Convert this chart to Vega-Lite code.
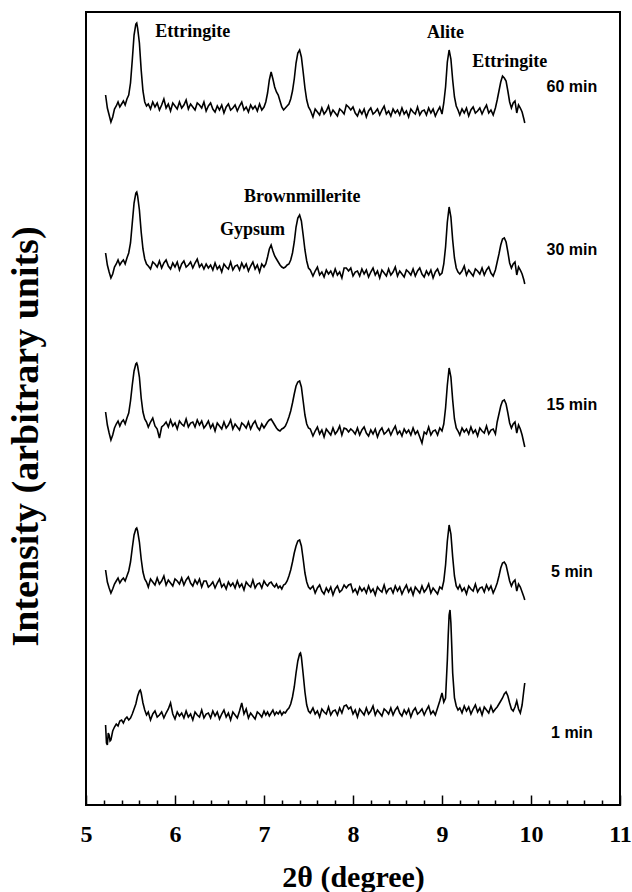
{
"$schema":"https://vega.github.io/schema/vega-lite/v6.json",
"width":534,"height":793,
"autosize":{"type":"none"},
"padding":{"left":86,"top":12,"right":12,"bottom":87},
"background":"white",
"config":{"view":{"stroke":"black","strokeWidth":2}},
"datasets":{
"t60":[
{"deg":5.22,"v":710},{"deg":5.24,"v":697},{"deg":5.26,"v":690},{"deg":5.28,"v":683},{"deg":5.30,"v":688},{"deg":5.32,"v":696},{"deg":5.34,"v":699},{"deg":5.36,"v":703},{"deg":5.38,"v":698},{"deg":5.40,"v":701},{"deg":5.42,"v":704},{"deg":5.44,"v":700},{"deg":5.46,"v":706},{"deg":5.48,"v":710},{"deg":5.50,"v":722},{"deg":5.52,"v":745},{"deg":5.54,"v":770},{"deg":5.56,"v":781},{"deg":5.57,"v":782},{"deg":5.58,"v":777},{"deg":5.60,"v":762},{"deg":5.62,"v":735},{"deg":5.64,"v":714},{"deg":5.66,"v":703},{"deg":5.68,"v":699},
{"deg":5.700,"v":701},{"deg":5.725,"v":696},{"deg":5.750,"v":703},{"deg":5.775,"v":698},{"deg":5.800,"v":702},{"deg":5.825,"v":695},{"deg":5.850,"v":700},{"deg":5.875,"v":706},{"deg":5.900,"v":697},{"deg":5.925,"v":701},{"deg":5.950,"v":694},{"deg":5.975,"v":702},{"deg":6.000,"v":699},{"deg":6.025,"v":696},{"deg":6.050,"v":703},{"deg":6.075,"v":697},{"deg":6.100,"v":700},{"deg":6.125,"v":705},{"deg":6.150,"v":696},{"deg":6.175,"v":701},{"deg":6.200,"v":698},{"deg":6.225,"v":695},{"deg":6.250,"v":702},{"deg":6.275,"v":700},{"deg":6.300,"v":697},{"deg":6.325,"v":703},{"deg":6.350,"v":694},{"deg":6.375,"v":699},{"deg":6.400,"v":702},{"deg":6.425,"v":696},{"deg":6.450,"v":693},{"deg":6.475,"v":699},{"deg":6.500,"v":695},{"deg":6.525,"v":700},{"deg":6.550,"v":692},{"deg":6.575,"v":698},{"deg":6.600,"v":701},{"deg":6.625,"v":695},{"deg":6.650,"v":697},{"deg":6.675,"v":700},{"deg":6.700,"v":694},{"deg":6.725,"v":699},{"deg":6.750,"v":703},{"deg":6.775,"v":695},{"deg":6.800,"v":698},{"deg":6.825,"v":693},{"deg":6.850,"v":700},{"deg":6.875,"v":696},{"deg":6.900,"v":699},{"deg":6.925,"v":694},{"deg":6.950,"v":701},{"deg":6.975,"v":695},{"deg":7.000,"v":698},
{"deg":7.02,"v":703},{"deg":7.04,"v":712},{"deg":7.06,"v":725},{"deg":7.08,"v":733},{"deg":7.10,"v":726},{"deg":7.12,"v":718},{"deg":7.14,"v":713},{"deg":7.16,"v":710},{"deg":7.18,"v":704},{"deg":7.20,"v":698},{"deg":7.22,"v":695},{"deg":7.24,"v":697},{"deg":7.26,"v":699},{"deg":7.28,"v":701},{"deg":7.30,"v":706},{"deg":7.32,"v":714},{"deg":7.34,"v":726},{"deg":7.36,"v":742},{"deg":7.38,"v":752},{"deg":7.40,"v":755},{"deg":7.42,"v":748},{"deg":7.44,"v":733},{"deg":7.46,"v":717},{"deg":7.48,"v":705},{"deg":7.50,"v":698},{"deg":7.52,"v":695},
{"deg":7.550,"v":688},{"deg":7.575,"v":696},{"deg":7.600,"v":693},{"deg":7.625,"v":690},{"deg":7.650,"v":697},{"deg":7.675,"v":691},{"deg":7.700,"v":694},{"deg":7.725,"v":699},{"deg":7.750,"v":690},{"deg":7.775,"v":695},{"deg":7.800,"v":692},{"deg":7.825,"v":689},{"deg":7.850,"v":696},{"deg":7.875,"v":694},{"deg":7.900,"v":691},{"deg":7.925,"v":700},{"deg":7.950,"v":698},{"deg":7.975,"v":695},{"deg":8.000,"v":698},{"deg":8.025,"v":692},{"deg":8.050,"v":689},{"deg":8.075,"v":695},{"deg":8.100,"v":691},{"deg":8.125,"v":696},{"deg":8.150,"v":688},{"deg":8.175,"v":694},{"deg":8.200,"v":697},{"deg":8.225,"v":691},{"deg":8.250,"v":693},{"deg":8.275,"v":696},{"deg":8.300,"v":690},{"deg":8.325,"v":695},{"deg":8.350,"v":699},{"deg":8.375,"v":691},{"deg":8.400,"v":694},{"deg":8.425,"v":689},{"deg":8.450,"v":696},{"deg":8.475,"v":692},{"deg":8.500,"v":695},{"deg":8.525,"v":690},{"deg":8.550,"v":697},{"deg":8.575,"v":691},{"deg":8.600,"v":694},{"deg":8.625,"v":688},{"deg":8.650,"v":696},{"deg":8.675,"v":693},{"deg":8.700,"v":691},{"deg":8.725,"v":698},{"deg":8.750,"v":690},{"deg":8.775,"v":694},{"deg":8.800,"v":695},{"deg":8.825,"v":690},{"deg":8.850,"v":697},{"deg":8.875,"v":692},{"deg":8.900,"v":696},{"deg":8.925,"v":689},{"deg":8.950,"v":694},{"deg":8.975,"v":698},{"deg":9.000,"v":691},
{"deg":9.02,"v":702},{"deg":9.04,"v":718},{"deg":9.06,"v":743},{"deg":9.08,"v":755},{"deg":9.10,"v":746},{"deg":9.12,"v":725},{"deg":9.14,"v":708},{"deg":9.16,"v":699},{"deg":9.18,"v":695},
{"deg":9.200,"v":690},{"deg":9.225,"v":696},{"deg":9.250,"v":692},{"deg":9.275,"v":697},{"deg":9.300,"v":689},{"deg":9.325,"v":695},{"deg":9.350,"v":698},{"deg":9.375,"v":692},{"deg":9.400,"v":694},{"deg":9.425,"v":697},{"deg":9.450,"v":691},{"deg":9.475,"v":696},{"deg":9.500,"v":700},{"deg":9.525,"v":692},{"deg":9.550,"v":695},{"deg":9.575,"v":690},{"deg":9.600,"v":697},
{"deg":9.62,"v":705},{"deg":9.64,"v":714},{"deg":9.66,"v":723},{"deg":9.68,"v":729},{"deg":9.70,"v":727},{"deg":9.72,"v":724},{"deg":9.74,"v":714},{"deg":9.76,"v":703},{"deg":9.78,"v":697},{"deg":9.80,"v":702},{"deg":9.82,"v":704},{"deg":9.84,"v":692},{"deg":9.86,"v":700},{"deg":9.88,"v":697},{"deg":9.90,"v":693},{"deg":9.92,"v":686},{"deg":9.93,"v":682}],
"t30":[
{"deg":5.22,"v":552},{"deg":5.24,"v":540},{"deg":5.26,"v":533},{"deg":5.28,"v":527},{"deg":5.30,"v":531},{"deg":5.32,"v":538},{"deg":5.34,"v":541},{"deg":5.36,"v":545},{"deg":5.38,"v":540},{"deg":5.40,"v":543},{"deg":5.42,"v":545},{"deg":5.44,"v":541},{"deg":5.46,"v":547},{"deg":5.48,"v":552},{"deg":5.50,"v":562},{"deg":5.52,"v":582},{"deg":5.54,"v":602},{"deg":5.56,"v":612},{"deg":5.57,"v":613},{"deg":5.58,"v":609},{"deg":5.60,"v":595},{"deg":5.62,"v":573},{"deg":5.64,"v":556},{"deg":5.66,"v":546},{"deg":5.68,"v":541},
{"deg":5.700,"v":539},{"deg":5.725,"v":536},{"deg":5.750,"v":543},{"deg":5.775,"v":541},{"deg":5.800,"v":538},{"deg":5.825,"v":544},{"deg":5.850,"v":537},{"deg":5.875,"v":542},{"deg":5.900,"v":545},{"deg":5.925,"v":539},{"deg":5.950,"v":536},{"deg":5.975,"v":542},{"deg":6.000,"v":538},{"deg":6.025,"v":543},{"deg":6.050,"v":535},{"deg":6.075,"v":541},{"deg":6.100,"v":544},{"deg":6.125,"v":538},{"deg":6.150,"v":540},{"deg":6.175,"v":543},{"deg":6.200,"v":537},{"deg":6.225,"v":542},{"deg":6.250,"v":546},{"deg":6.275,"v":538},{"deg":6.300,"v":541},{"deg":6.325,"v":536},{"deg":6.350,"v":541},{"deg":6.375,"v":537},{"deg":6.400,"v":540},{"deg":6.425,"v":535},{"deg":6.450,"v":542},{"deg":6.475,"v":536},{"deg":6.500,"v":539},{"deg":6.525,"v":533},{"deg":6.550,"v":541},{"deg":6.575,"v":538},{"deg":6.600,"v":536},{"deg":6.625,"v":543},{"deg":6.650,"v":535},{"deg":6.675,"v":539},{"deg":6.700,"v":540},{"deg":6.725,"v":535},{"deg":6.750,"v":542},{"deg":6.775,"v":537},{"deg":6.800,"v":541},{"deg":6.825,"v":534},{"deg":6.850,"v":539},{"deg":6.875,"v":543},{"deg":6.900,"v":536},{"deg":6.925,"v":540},{"deg":6.950,"v":533},{"deg":6.975,"v":541},{"deg":7.000,"v":538},
{"deg":7.02,"v":541},{"deg":7.04,"v":548},{"deg":7.06,"v":556},{"deg":7.08,"v":560},{"deg":7.10,"v":554},{"deg":7.12,"v":549},{"deg":7.14,"v":546},{"deg":7.16,"v":543},{"deg":7.18,"v":540},{"deg":7.20,"v":538},{"deg":7.22,"v":537},{"deg":7.24,"v":538},{"deg":7.26,"v":540},{"deg":7.28,"v":541},{"deg":7.30,"v":545},{"deg":7.32,"v":552},{"deg":7.34,"v":563},{"deg":7.36,"v":578},{"deg":7.38,"v":587},{"deg":7.40,"v":590},{"deg":7.42,"v":584},{"deg":7.44,"v":570},{"deg":7.46,"v":555},{"deg":7.48,"v":544},{"deg":7.50,"v":537},{"deg":7.52,"v":535},
{"deg":7.550,"v":529},{"deg":7.575,"v":534},{"deg":7.600,"v":538},{"deg":7.625,"v":530},{"deg":7.650,"v":533},{"deg":7.675,"v":528},{"deg":7.700,"v":535},{"deg":7.725,"v":531},{"deg":7.750,"v":534},{"deg":7.775,"v":529},{"deg":7.800,"v":536},{"deg":7.825,"v":530},{"deg":7.850,"v":533},{"deg":7.875,"v":527},{"deg":7.900,"v":537},{"deg":7.925,"v":537},{"deg":7.950,"v":534},{"deg":7.975,"v":537},{"deg":8.000,"v":529},{"deg":8.025,"v":533},{"deg":8.050,"v":534},{"deg":8.075,"v":529},{"deg":8.100,"v":536},{"deg":8.125,"v":531},{"deg":8.150,"v":535},{"deg":8.175,"v":528},{"deg":8.200,"v":533},{"deg":8.225,"v":537},{"deg":8.250,"v":530},{"deg":8.275,"v":534},{"deg":8.300,"v":527},{"deg":8.325,"v":535},{"deg":8.350,"v":532},{"deg":8.375,"v":529},{"deg":8.400,"v":536},{"deg":8.425,"v":530},{"deg":8.450,"v":533},{"deg":8.475,"v":538},{"deg":8.500,"v":529},{"deg":8.525,"v":534},{"deg":8.550,"v":531},{"deg":8.575,"v":528},{"deg":8.600,"v":535},{"deg":8.625,"v":533},{"deg":8.650,"v":530},{"deg":8.675,"v":536},{"deg":8.700,"v":529},{"deg":8.725,"v":534},{"deg":8.750,"v":537},{"deg":8.775,"v":531},{"deg":8.800,"v":528},{"deg":8.825,"v":534},{"deg":8.850,"v":530},{"deg":8.875,"v":535},{"deg":8.900,"v":527},{"deg":8.925,"v":533},{"deg":8.950,"v":536},{"deg":8.975,"v":530},{"deg":9.000,"v":532},
{"deg":9.02,"v":541},{"deg":9.04,"v":558},{"deg":9.06,"v":583},{"deg":9.08,"v":598},{"deg":9.10,"v":588},{"deg":9.12,"v":565},{"deg":9.14,"v":547},{"deg":9.16,"v":537},{"deg":9.18,"v":533},
{"deg":9.200,"v":531},{"deg":9.225,"v":534},{"deg":9.250,"v":539},{"deg":9.275,"v":530},{"deg":9.300,"v":535},{"deg":9.325,"v":532},{"deg":9.350,"v":529},{"deg":9.375,"v":536},{"deg":9.400,"v":534},{"deg":9.425,"v":531},{"deg":9.450,"v":537},{"deg":9.475,"v":530},{"deg":9.500,"v":535},{"deg":9.525,"v":538},{"deg":9.550,"v":532},{"deg":9.575,"v":529},{"deg":9.600,"v":535},
{"deg":9.62,"v":543},{"deg":9.64,"v":551},{"deg":9.66,"v":560},{"deg":9.68,"v":566},{"deg":9.70,"v":567},{"deg":9.72,"v":563},{"deg":9.74,"v":553},{"deg":9.76,"v":542},{"deg":9.78,"v":537},{"deg":9.80,"v":541},{"deg":9.82,"v":543},{"deg":9.84,"v":530},{"deg":9.86,"v":538},{"deg":9.88,"v":535},{"deg":9.90,"v":531},{"deg":9.92,"v":525},{"deg":9.93,"v":521}],
"t15":[
{"deg":5.22,"v":393},{"deg":5.24,"v":380},{"deg":5.26,"v":372},{"deg":5.28,"v":365},{"deg":5.30,"v":370},{"deg":5.32,"v":377},{"deg":5.34,"v":381},{"deg":5.36,"v":384},{"deg":5.38,"v":379},{"deg":5.40,"v":383},{"deg":5.42,"v":385},{"deg":5.44,"v":381},{"deg":5.46,"v":387},{"deg":5.48,"v":392},{"deg":5.50,"v":404},{"deg":5.52,"v":420},{"deg":5.54,"v":434},{"deg":5.56,"v":441},{"deg":5.57,"v":442},{"deg":5.58,"v":439},{"deg":5.60,"v":428},{"deg":5.62,"v":407},{"deg":5.64,"v":393},{"deg":5.66,"v":386},{"deg":5.68,"v":383},
{"deg":5.700,"v":378},{"deg":5.725,"v":383},{"deg":5.750,"v":387},{"deg":5.775,"v":379},{"deg":5.800,"v":376},{"deg":5.825,"v":367},{"deg":5.850,"v":378},{"deg":5.875,"v":380},{"deg":5.900,"v":383},{"deg":5.925,"v":378},{"deg":5.950,"v":385},{"deg":5.975,"v":379},{"deg":6.000,"v":382},{"deg":6.025,"v":376},{"deg":6.050,"v":384},{"deg":6.075,"v":381},{"deg":6.100,"v":379},{"deg":6.125,"v":386},{"deg":6.150,"v":378},{"deg":6.175,"v":382},{"deg":6.200,"v":383},{"deg":6.225,"v":378},{"deg":6.250,"v":385},{"deg":6.275,"v":380},{"deg":6.300,"v":384},{"deg":6.325,"v":377},{"deg":6.350,"v":380},{"deg":6.375,"v":384},{"deg":6.400,"v":377},{"deg":6.425,"v":381},{"deg":6.450,"v":374},{"deg":6.475,"v":382},{"deg":6.500,"v":379},{"deg":6.525,"v":376},{"deg":6.550,"v":383},{"deg":6.575,"v":377},{"deg":6.600,"v":380},{"deg":6.625,"v":385},{"deg":6.650,"v":376},{"deg":6.675,"v":381},{"deg":6.700,"v":378},{"deg":6.725,"v":375},{"deg":6.750,"v":382},{"deg":6.775,"v":380},{"deg":6.800,"v":377},{"deg":6.825,"v":383},{"deg":6.850,"v":376},{"deg":6.875,"v":381},{"deg":6.900,"v":384},{"deg":6.925,"v":378},{"deg":6.950,"v":375},{"deg":6.975,"v":381},{"deg":7.000,"v":377},
{"deg":7.02,"v":380},{"deg":7.04,"v":383},{"deg":7.06,"v":385},{"deg":7.08,"v":386},{"deg":7.10,"v":383},{"deg":7.12,"v":380},{"deg":7.14,"v":377},{"deg":7.16,"v":375},{"deg":7.18,"v":374},{"deg":7.20,"v":376},{"deg":7.22,"v":377},{"deg":7.24,"v":379},{"deg":7.26,"v":383},{"deg":7.28,"v":388},{"deg":7.30,"v":394},{"deg":7.32,"v":402},{"deg":7.34,"v":411},{"deg":7.36,"v":419},{"deg":7.38,"v":423},{"deg":7.40,"v":424},{"deg":7.42,"v":418},{"deg":7.44,"v":404},{"deg":7.46,"v":390},{"deg":7.48,"v":381},{"deg":7.50,"v":377},{"deg":7.52,"v":376},
{"deg":7.550,"v":369},{"deg":7.575,"v":374},{"deg":7.600,"v":378},{"deg":7.625,"v":371},{"deg":7.650,"v":375},{"deg":7.675,"v":368},{"deg":7.700,"v":376},{"deg":7.725,"v":373},{"deg":7.750,"v":370},{"deg":7.775,"v":377},{"deg":7.800,"v":371},{"deg":7.825,"v":374},{"deg":7.850,"v":379},{"deg":7.875,"v":370},{"deg":7.900,"v":377},{"deg":7.925,"v":376},{"deg":7.950,"v":373},{"deg":7.975,"v":376},{"deg":8.000,"v":374},{"deg":8.025,"v":371},{"deg":8.050,"v":377},{"deg":8.075,"v":370},{"deg":8.100,"v":375},{"deg":8.125,"v":378},{"deg":8.150,"v":372},{"deg":8.175,"v":369},{"deg":8.200,"v":375},{"deg":8.225,"v":371},{"deg":8.250,"v":376},{"deg":8.275,"v":368},{"deg":8.300,"v":374},{"deg":8.325,"v":377},{"deg":8.350,"v":371},{"deg":8.375,"v":373},{"deg":8.400,"v":376},{"deg":8.425,"v":370},{"deg":8.450,"v":375},{"deg":8.475,"v":379},{"deg":8.500,"v":371},{"deg":8.525,"v":374},{"deg":8.550,"v":369},{"deg":8.575,"v":376},{"deg":8.600,"v":372},{"deg":8.625,"v":375},{"deg":8.650,"v":370},{"deg":8.675,"v":377},{"deg":8.700,"v":371},{"deg":8.725,"v":374},{"deg":8.750,"v":368},{"deg":8.775,"v":362},{"deg":8.800,"v":373},{"deg":8.825,"v":371},{"deg":8.850,"v":378},{"deg":8.875,"v":370},{"deg":8.900,"v":374},{"deg":8.925,"v":375},{"deg":8.950,"v":370},{"deg":8.975,"v":377},{"deg":9.000,"v":374},
{"deg":9.02,"v":381},{"deg":9.04,"v":397},{"deg":9.06,"v":420},{"deg":9.08,"v":437},{"deg":9.10,"v":428},{"deg":9.12,"v":405},{"deg":9.14,"v":386},{"deg":9.16,"v":377},{"deg":9.18,"v":374},
{"deg":9.200,"v":370},{"deg":9.225,"v":377},{"deg":9.250,"v":373},{"deg":9.275,"v":376},{"deg":9.300,"v":371},{"deg":9.325,"v":378},{"deg":9.350,"v":372},{"deg":9.375,"v":375},{"deg":9.400,"v":369},{"deg":9.425,"v":377},{"deg":9.450,"v":374},{"deg":9.475,"v":372},{"deg":9.500,"v":379},{"deg":9.525,"v":371},{"deg":9.550,"v":375},{"deg":9.575,"v":376},{"deg":9.600,"v":371},
{"deg":9.62,"v":383},{"deg":9.64,"v":391},{"deg":9.66,"v":399},{"deg":9.68,"v":404},{"deg":9.70,"v":405},{"deg":9.72,"v":401},{"deg":9.74,"v":392},{"deg":9.76,"v":382},{"deg":9.78,"v":377},{"deg":9.80,"v":381},{"deg":9.82,"v":383},{"deg":9.84,"v":372},{"deg":9.86,"v":380},{"deg":9.88,"v":376},{"deg":9.90,"v":370},{"deg":9.92,"v":362},{"deg":9.93,"v":358}],
"t5":[
{"deg":5.22,"v":235},{"deg":5.24,"v":223},{"deg":5.26,"v":217},{"deg":5.28,"v":212},{"deg":5.30,"v":216},{"deg":5.32,"v":221},{"deg":5.34,"v":224},{"deg":5.36,"v":227},{"deg":5.38,"v":222},{"deg":5.40,"v":225},{"deg":5.42,"v":227},{"deg":5.44,"v":224},{"deg":5.46,"v":229},{"deg":5.48,"v":234},{"deg":5.50,"v":243},{"deg":5.52,"v":257},{"deg":5.54,"v":270},{"deg":5.56,"v":276},{"deg":5.57,"v":277},{"deg":5.58,"v":274},{"deg":5.60,"v":263},{"deg":5.62,"v":246},{"deg":5.64,"v":233},{"deg":5.66,"v":226},{"deg":5.68,"v":223},
{"deg":5.700,"v":218},{"deg":5.725,"v":226},{"deg":5.750,"v":223},{"deg":5.775,"v":220},{"deg":5.800,"v":227},{"deg":5.825,"v":221},{"deg":5.850,"v":224},{"deg":5.875,"v":229},{"deg":5.900,"v":220},{"deg":5.925,"v":225},{"deg":5.950,"v":222},{"deg":5.975,"v":219},{"deg":6.000,"v":226},{"deg":6.025,"v":224},{"deg":6.050,"v":221},{"deg":6.075,"v":227},{"deg":6.100,"v":220},{"deg":6.125,"v":225},{"deg":6.150,"v":228},{"deg":6.175,"v":222},{"deg":6.200,"v":219},{"deg":6.225,"v":225},{"deg":6.250,"v":221},{"deg":6.275,"v":226},{"deg":6.300,"v":218},{"deg":6.325,"v":224},{"deg":6.350,"v":224},{"deg":6.375,"v":218},{"deg":6.400,"v":220},{"deg":6.425,"v":223},{"deg":6.450,"v":217},{"deg":6.475,"v":222},{"deg":6.500,"v":226},{"deg":6.525,"v":218},{"deg":6.550,"v":221},{"deg":6.575,"v":216},{"deg":6.600,"v":223},{"deg":6.625,"v":219},{"deg":6.650,"v":222},{"deg":6.675,"v":217},{"deg":6.700,"v":224},{"deg":6.725,"v":218},{"deg":6.750,"v":221},{"deg":6.775,"v":215},{"deg":6.800,"v":223},{"deg":6.825,"v":220},{"deg":6.850,"v":218},{"deg":6.875,"v":225},{"deg":6.900,"v":217},{"deg":6.925,"v":221},{"deg":6.950,"v":222},{"deg":6.975,"v":217},{"deg":7.000,"v":224},
{"deg":7.02,"v":221},{"deg":7.04,"v":219},{"deg":7.06,"v":222},{"deg":7.08,"v":223},{"deg":7.10,"v":220},{"deg":7.12,"v":218},{"deg":7.14,"v":221},{"deg":7.16,"v":217},{"deg":7.18,"v":219},{"deg":7.20,"v":216},{"deg":7.22,"v":220},{"deg":7.24,"v":221},{"deg":7.26,"v":224},{"deg":7.28,"v":229},{"deg":7.30,"v":235},{"deg":7.32,"v":243},{"deg":7.34,"v":252},{"deg":7.36,"v":259},{"deg":7.38,"v":264},{"deg":7.40,"v":265},{"deg":7.42,"v":259},{"deg":7.44,"v":246},{"deg":7.46,"v":232},{"deg":7.48,"v":223},{"deg":7.50,"v":218},{"deg":7.52,"v":216},
{"deg":7.550,"v":219},{"deg":7.575,"v":212},{"deg":7.600,"v":217},{"deg":7.625,"v":220},{"deg":7.650,"v":214},{"deg":7.675,"v":211},{"deg":7.700,"v":217},{"deg":7.725,"v":213},{"deg":7.750,"v":218},{"deg":7.775,"v":210},{"deg":7.800,"v":216},{"deg":7.825,"v":219},{"deg":7.850,"v":213},{"deg":7.875,"v":215},{"deg":7.900,"v":220},{"deg":7.925,"v":217},{"deg":7.950,"v":220},{"deg":7.975,"v":221},{"deg":8.000,"v":213},{"deg":8.025,"v":216},{"deg":8.050,"v":211},{"deg":8.075,"v":218},{"deg":8.100,"v":214},{"deg":8.125,"v":217},{"deg":8.150,"v":212},{"deg":8.175,"v":219},{"deg":8.200,"v":213},{"deg":8.225,"v":216},{"deg":8.250,"v":210},{"deg":8.275,"v":218},{"deg":8.300,"v":215},{"deg":8.325,"v":213},{"deg":8.350,"v":220},{"deg":8.375,"v":212},{"deg":8.400,"v":216},{"deg":8.425,"v":217},{"deg":8.450,"v":212},{"deg":8.475,"v":219},{"deg":8.500,"v":214},{"deg":8.525,"v":218},{"deg":8.550,"v":211},{"deg":8.575,"v":216},{"deg":8.600,"v":220},{"deg":8.625,"v":213},{"deg":8.650,"v":217},{"deg":8.675,"v":210},{"deg":8.700,"v":218},{"deg":8.725,"v":215},{"deg":8.750,"v":212},{"deg":8.775,"v":219},{"deg":8.800,"v":213},{"deg":8.825,"v":216},{"deg":8.850,"v":221},{"deg":8.875,"v":212},{"deg":8.900,"v":217},{"deg":8.925,"v":214},{"deg":8.950,"v":211},{"deg":8.975,"v":218},{"deg":9.000,"v":216},
{"deg":9.02,"v":224},{"deg":9.04,"v":240},{"deg":9.06,"v":264},{"deg":9.08,"v":280},{"deg":9.10,"v":271},{"deg":9.12,"v":248},{"deg":9.14,"v":229},{"deg":9.16,"v":219},{"deg":9.18,"v":216},
{"deg":9.200,"v":220},{"deg":9.225,"v":214},{"deg":9.250,"v":217},{"deg":9.275,"v":211},{"deg":9.300,"v":219},{"deg":9.325,"v":216},{"deg":9.350,"v":214},{"deg":9.375,"v":221},{"deg":9.400,"v":213},{"deg":9.425,"v":217},{"deg":9.450,"v":218},{"deg":9.475,"v":213},{"deg":9.500,"v":220},{"deg":9.525,"v":215},{"deg":9.550,"v":219},{"deg":9.575,"v":212},{"deg":9.600,"v":217},
{"deg":9.62,"v":222},{"deg":9.64,"v":229},{"deg":9.66,"v":237},{"deg":9.68,"v":242},{"deg":9.70,"v":243},{"deg":9.72,"v":240},{"deg":9.74,"v":232},{"deg":9.76,"v":224},{"deg":9.78,"v":219},{"deg":9.80,"v":223},{"deg":9.82,"v":225},{"deg":9.84,"v":214},{"deg":9.86,"v":221},{"deg":9.88,"v":218},{"deg":9.90,"v":213},{"deg":9.92,"v":208},{"deg":9.93,"v":205}],
"t1":[
{"deg":5.22,"v":80},{"deg":5.23,"v":62},{"deg":5.24,"v":60},{"deg":5.25,"v":72},{"deg":5.26,"v":70},{"deg":5.27,"v":64},{"deg":5.28,"v":65},{"deg":5.30,"v":74},{"deg":5.32,"v":78},{"deg":5.34,"v":81},{"deg":5.36,"v":79},{"deg":5.38,"v":84},{"deg":5.40,"v":85},{"deg":5.42,"v":82},{"deg":5.44,"v":86},{"deg":5.46,"v":88},{"deg":5.48,"v":85},{"deg":5.50,"v":87},{"deg":5.52,"v":91},{"deg":5.54,"v":96},{"deg":5.56,"v":101},{"deg":5.58,"v":109},{"deg":5.60,"v":114},{"deg":5.61,"v":115},{"deg":5.62,"v":112},{"deg":5.64,"v":102},{"deg":5.66,"v":95},{"deg":5.68,"v":90},
{"deg":5.700,"v":93},{"deg":5.725,"v":85},{"deg":5.750,"v":91},{"deg":5.775,"v":94},{"deg":5.800,"v":88},{"deg":5.825,"v":90},{"deg":5.850,"v":93},{"deg":5.875,"v":87},{"deg":5.900,"v":92},{"deg":5.925,"v":96},{"deg":5.950,"v":102},{"deg":5.975,"v":91},{"deg":6.000,"v":86},{"deg":6.025,"v":93},{"deg":6.050,"v":89},{"deg":6.075,"v":92},{"deg":6.100,"v":87},{"deg":6.125,"v":94},{"deg":6.150,"v":88},{"deg":6.175,"v":91},{"deg":6.200,"v":85},{"deg":6.225,"v":93},{"deg":6.250,"v":90},{"deg":6.275,"v":88},{"deg":6.300,"v":95},{"deg":6.325,"v":87},{"deg":6.350,"v":91},{"deg":6.375,"v":92},{"deg":6.400,"v":87},{"deg":6.425,"v":94},{"deg":6.450,"v":89},{"deg":6.475,"v":93},{"deg":6.500,"v":86},{"deg":6.525,"v":91},{"deg":6.550,"v":95},{"deg":6.575,"v":88},{"deg":6.600,"v":92},{"deg":6.625,"v":85},{"deg":6.650,"v":93},{"deg":6.675,"v":90},{"deg":6.700,"v":87},{"deg":6.725,"v":94},{"deg":6.750,"v":102},{"deg":6.775,"v":91},{"deg":6.800,"v":96},{"deg":6.825,"v":87},{"deg":6.850,"v":92},{"deg":6.875,"v":89},{"deg":6.900,"v":86},{"deg":6.925,"v":93},{"deg":6.950,"v":91},{"deg":6.975,"v":88},{"deg":7.000,"v":94},
{"deg":7.02,"v":90},{"deg":7.04,"v":93},{"deg":7.06,"v":89},{"deg":7.08,"v":92},{"deg":7.10,"v":95},{"deg":7.12,"v":90},{"deg":7.14,"v":93},{"deg":7.16,"v":91},{"deg":7.18,"v":94},{"deg":7.20,"v":90},{"deg":7.22,"v":93},{"deg":7.24,"v":92},{"deg":7.26,"v":95},{"deg":7.28,"v":97},{"deg":7.30,"v":101},{"deg":7.32,"v":108},{"deg":7.34,"v":118},{"deg":7.36,"v":132},{"deg":7.38,"v":144},{"deg":7.40,"v":151},{"deg":7.41,"v":152},{"deg":7.42,"v":148},{"deg":7.44,"v":131},{"deg":7.46,"v":113},{"deg":7.48,"v":100},{"deg":7.50,"v":94},{"deg":7.52,"v":92},
{"deg":7.550,"v":97},{"deg":7.575,"v":91},{"deg":7.600,"v":94},{"deg":7.625,"v":88},{"deg":7.650,"v":96},{"deg":7.675,"v":93},{"deg":7.700,"v":91},{"deg":7.725,"v":98},{"deg":7.750,"v":90},{"deg":7.775,"v":94},{"deg":7.800,"v":95},{"deg":7.825,"v":90},{"deg":7.850,"v":97},{"deg":7.875,"v":92},{"deg":7.900,"v":99},{"deg":7.925,"v":100},{"deg":7.950,"v":96},{"deg":7.975,"v":98},{"deg":8.000,"v":91},{"deg":8.025,"v":95},{"deg":8.050,"v":88},{"deg":8.075,"v":96},{"deg":8.100,"v":93},{"deg":8.125,"v":90},{"deg":8.150,"v":97},{"deg":8.175,"v":91},{"deg":8.200,"v":94},{"deg":8.225,"v":99},{"deg":8.250,"v":90},{"deg":8.275,"v":95},{"deg":8.300,"v":92},{"deg":8.325,"v":89},{"deg":8.350,"v":96},{"deg":8.375,"v":94},{"deg":8.400,"v":91},{"deg":8.425,"v":97},{"deg":8.450,"v":90},{"deg":8.475,"v":95},{"deg":8.500,"v":98},{"deg":8.525,"v":92},{"deg":8.550,"v":89},{"deg":8.575,"v":95},{"deg":8.600,"v":91},{"deg":8.625,"v":96},{"deg":8.650,"v":88},{"deg":8.675,"v":94},{"deg":8.700,"v":97},{"deg":8.725,"v":91},{"deg":8.750,"v":93},{"deg":8.775,"v":96},{"deg":8.800,"v":90},{"deg":8.825,"v":95},{"deg":8.850,"v":99},{"deg":8.875,"v":91},{"deg":8.900,"v":94},{"deg":8.925,"v":90},{"deg":8.950,"v":97},{"deg":8.975,"v":104},{"deg":9.000,"v":112},
{"deg":9.02,"v":103},{"deg":9.04,"v":107},{"deg":9.06,"v":145},{"deg":9.07,"v":170},{"deg":9.08,"v":190},{"deg":9.09,"v":195},{"deg":9.10,"v":182},{"deg":9.11,"v":158},{"deg":9.12,"v":132},{"deg":9.14,"v":107},{"deg":9.16,"v":99},{"deg":9.18,"v":95},
{"deg":9.200,"v":97},{"deg":9.225,"v":92},{"deg":9.250,"v":99},{"deg":9.275,"v":94},{"deg":9.300,"v":98},{"deg":9.325,"v":91},{"deg":9.350,"v":96},{"deg":9.375,"v":100},{"deg":9.400,"v":93},{"deg":9.425,"v":97},{"deg":9.450,"v":90},{"deg":9.475,"v":98},{"deg":9.500,"v":95},{"deg":9.525,"v":92},{"deg":9.550,"v":99},{"deg":9.575,"v":93},{"deg":9.600,"v":96},
{"deg":9.62,"v":98},{"deg":9.64,"v":101},{"deg":9.66,"v":104},{"deg":9.68,"v":107},{"deg":9.70,"v":111},{"deg":9.72,"v":113},{"deg":9.74,"v":109},{"deg":9.76,"v":102},{"deg":9.78,"v":96},{"deg":9.80,"v":94},{"deg":9.82,"v":98},{"deg":9.84,"v":104},{"deg":9.86,"v":96},{"deg":9.88,"v":92},{"deg":9.90,"v":100},{"deg":9.92,"v":115},{"deg":9.93,"v":122}],
"peaks":[{"label":"Ettringite","deg":6.2,"v":773},{"label":"Alite","deg":9.04,"v":772},{"label":"Ettringite","deg":9.76,"v":743},{"label":"Brownmillerite","deg":7.43,"v":608},{"label":"Gypsum","deg":6.87,"v":575}],
"times":[{"label":"60 min","deg":10.46,"v":718},{"label":"30 min","deg":10.46,"v":555},{"label":"15 min","deg":10.46,"v":400},{"label":"5 min","deg":10.46,"v":233},{"label":"1 min","deg":10.46,"v":72}]
},
"encoding":{
"x":{"field":"deg","type":"quantitative","scale":{"domain":[5,11],"nice":false,"zero":false},
"axis":{"orient":"bottom","values":[5,5.2,5.4,5.6,5.8,6,6.2,6.4,6.6,6.8,7,7.2,7.4,7.6,7.8,8,8.2,8.4,8.6,8.8,9,9.2,9.4,9.6,9.8,10,10.2,10.4,10.6,10.8,11],"labelExpr":"datum.value % 1 === 0 ? format(datum.value, 'd') : ''","tickSize":{"condition":{"test":"datum.value % 1 === 0","value":-10},"value":-5},"tickWidth":1.5,"tickColor":"black","domain":false,"grid":false,"labelFont":"Liberation Serif","labelFontWeight":"bold","labelFontSize":24,"labelColor":"black","labelPadding":27,"labelFlush":false,"labelOverlap":false,"title":"2θ (degree)","titleFont":"Liberation Serif","titleFontWeight":"bold","titleFontSize":30,"titleColor":"black","titleY":72,"titleBaseline":"middle"}},
"y":{"field":"v","type":"quantitative","scale":{"domain":[0,793],"nice":false,"zero":false},"axis":{"labels":false,"ticks":false,"domain":false,"grid":false,"title":"Intensity (arbitrary units)","titleFont":"Liberation Serif","titleFontWeight":"bold","titleFontSize":38,"titleColor":"black","titleX":-60,"titleY":424,"titleAngle":-90,"titleAlign":"center","titleBaseline":"middle"}}},
"layer":[
{"data":{"name":"t60"},"mark":{"type":"line","color":"black","strokeWidth":1.6}},
{"data":{"name":"t30"},"mark":{"type":"line","color":"black","strokeWidth":1.6}},
{"data":{"name":"t15"},"mark":{"type":"line","color":"black","strokeWidth":1.6}},
{"data":{"name":"t5"},"mark":{"type":"line","color":"black","strokeWidth":1.6}},
{"data":{"name":"t1"},"mark":{"type":"line","color":"black","strokeWidth":1.6}},
{"data":{"name":"peaks"},"mark":{"type":"text","font":"Liberation Serif","fontWeight":"bold","fontSize":18,"color":"black"},"encoding":{"text":{"field":"label"}}},
{"data":{"name":"times"},"mark":{"type":"text","font":"Liberation Sans","fontWeight":"bold","fontSize":16,"color":"black"},"encoding":{"text":{"field":"label"}}}
]
}
